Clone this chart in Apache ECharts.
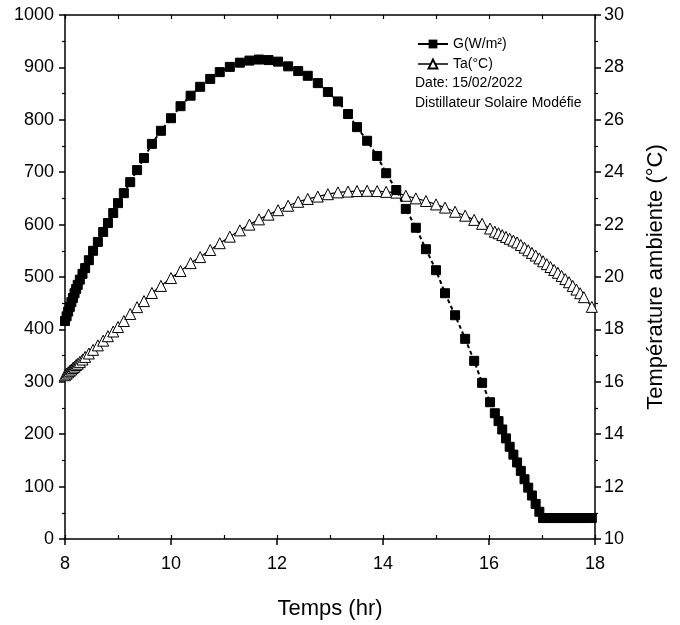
<!DOCTYPE html>
<html>
<head>
<meta charset="utf-8">
<script src="https://cdn.jsdelivr.net/npm/echarts@6/dist/echarts.min.js"></script>
<style>
html,body{margin:0;padding:0;background:#fff;}
#chart{width:680px;height:625px;}
</style>
</head>
<body>
<div id="chart"></div>
<script>
// Time (hr)
var hours = [8.00, 8.03, 8.06, 8.09, 8.12, 8.15, 8.18, 8.21, 8.24,
  8.28, 8.33, 8.38, 8.45, 8.53, 8.62, 8.72, 8.81, 8.91,
  9.00, 9.11, 9.23, 9.36, 9.49, 9.64, 9.81,
  10.00, 10.18, 10.37, 10.55, 10.74, 10.92, 11.11, 11.30, 11.48, 11.66, 11.84,
  12.02, 12.21, 12.40, 12.58, 12.77, 12.96, 13.15, 13.34, 13.51, 13.70, 13.89,
  14.06, 14.25, 14.43, 14.62, 14.81, 15.00, 15.17, 15.36, 15.55, 15.72, 15.87, 16.02,
  16.11, 16.18, 16.25, 16.32, 16.39, 16.46, 16.53, 16.60, 16.67, 16.74, 16.81, 16.88, 16.95,
  17.02, 17.09, 17.16, 17.23, 17.30, 17.37, 17.44, 17.51, 17.58, 17.65, 17.72, 17.79,
  17.94];
// Solar irradiance G (W/m2)
var gValues = [416, 425, 434, 443, 452, 460, 469, 477, 485,
  495, 506, 517, 532, 550, 567, 586, 603, 622,
  641, 660, 681, 704, 727, 754, 779,
  803, 826, 846, 863, 878, 891, 901, 909, 913, 915, 914,
  911, 902, 893, 884, 870, 853, 835, 811, 786, 760, 731,
  698, 666, 630, 594, 553, 513, 469, 427, 382, 340, 298, 261,
  240, 225, 209, 192, 176, 161, 146, 130, 114, 98, 83, 67, 52,
  40, 40, 40, 40, 40, 40, 40, 40, 40, 40, 40, 40,
  40];
// Ambient temperature Ta (°C)
var taValues = [16.25, 16.31, 16.36, 16.42, 16.47, 16.53, 16.58, 16.64, 16.69,
  16.76, 16.85, 16.95, 17.08, 17.22, 17.39, 17.57, 17.74, 17.92,
  18.09, 18.32, 18.59, 18.85, 19.08, 19.39, 19.66,
  19.96, 20.23, 20.53, 20.76, 21.03, 21.29, 21.54, 21.78, 22.00, 22.20, 22.38,
  22.55, 22.72, 22.87, 22.98, 23.07, 23.16, 23.23, 23.26, 23.28, 23.29, 23.28,
  23.25, 23.22, 23.10, 23.00, 22.90, 22.77, 22.65, 22.49, 22.34, 22.18, 22.03, 21.85,
  21.73, 21.67, 21.60, 21.53, 21.46, 21.39, 21.32, 21.22, 21.12, 21.02, 20.92, 20.82, 20.71,
  20.60, 20.49, 20.38, 20.27, 20.16, 20.04, 19.92, 19.80, 19.66, 19.52, 19.38, 19.23,
  18.86];

var seriesNames = ['G(W/m²)', 'Ta(°C)'];
var noteLines = ['Date: 15/02/2022', 'Distillateur Solaire Modéfie'];
var xAxisName = 'Temps (hr)';
var rightAxisName = 'Température ambiente (°C)';

var FONT = "'Liberation Sans', Arial, sans-serif";

var gData = hours.map(function (h, i) { return [h, gValues[i]]; });
var taData = hours.map(function (h, i) { return [h, taValues[i]]; });

var chart = echarts.init(document.getElementById('chart'), null, {renderer: 'canvas'});
var axisLine = {show: true, onZero: false, lineStyle: {color: '#000', width: 1.5}};
var plain = function (v) { return String(v); };
var option = {
  animation: false,
  backgroundColor: '#fff',
  grid: {left: 65, right: 85, top: 15, bottom: 86, containLabel: false},
  legend: {
    left: 412, top: 32, orient: 'vertical', itemGap: 6,
    itemWidth: 30, itemHeight: 11,
    textStyle: {fontFamily: FONT, fontSize: 14, color: '#000'},
    data: [
      {name: seriesNames[0], lineStyle: {type: 'solid', width: 2}},
      {name: seriesNames[1], lineStyle: {type: 'solid', width: 1.5}}
    ]
  },
  graphic: [
    {type: 'text', left: 415, top: 76, style: {text: noteLines[0], font: '14px ' + FONT, fill: '#000'}},
    {type: 'text', left: 415, top: 96, style: {text: noteLines[1], font: '14px ' + FONT, fill: '#000'}}
  ],
  xAxis: [
    {
      type: 'value', position: 'bottom', min: 8, max: 18, interval: 2,
      name: xAxisName, nameLocation: 'middle', nameGap: 59,
      nameTextStyle: {fontFamily: FONT, fontSize: 22, color: '#000'},
      axisLine: axisLine,
      axisTick: {show: true, length: 6, lineStyle: {color: '#000', width: 1.5}},
      minorTick: {show: false},
      axisLabel: {fontFamily: FONT, fontSize: 18, color: '#000', margin: 16, formatter: plain},
      splitLine: {show: false}
    },
    {
      type: 'value', position: 'bottom', min: 8, max: 18, interval: 1,
      axisLine: {show: false},
      axisTick: {show: true, inside: true, length: 4, lineStyle: {color: '#000', width: 1.2}},
      axisLabel: {show: false}, splitLine: {show: false}
    },
    {
      type: 'value', position: 'top', min: 8, max: 18, interval: 1,
      axisLine: axisLine,
      axisTick: {show: true, inside: true, length: 4, lineStyle: {color: '#000', width: 1.2}},
      axisLabel: {show: false}, splitLine: {show: false}
    }
  ],
  yAxis: [
    {
      type: 'value', position: 'left', min: 0, max: 1000, interval: 100,
      axisLine: axisLine,
      axisTick: {show: true, length: 6, lineStyle: {color: '#000', width: 1.5}},
      minorTick: {show: true, splitNumber: 2, length: 3, lineStyle: {color: '#000', width: 1.2}},
      axisLabel: {fontFamily: FONT, fontSize: 18, color: '#000', margin: 11, formatter: plain},
      splitLine: {show: false}
    },
    {
      type: 'value', position: 'right', min: 10, max: 30, interval: 2,
      name: rightAxisName, nameLocation: 'middle', nameGap: 50, nameRotate: 90,
      nameTextStyle: {fontFamily: FONT, fontSize: 22, color: '#000'},
      axisLine: axisLine,
      axisTick: {show: true, length: 6, lineStyle: {color: '#000', width: 1.5}},
      minorTick: {show: true, splitNumber: 2, length: 3, lineStyle: {color: '#000', width: 1.2}},
      axisLabel: {fontFamily: FONT, fontSize: 18, color: '#000', margin: 9, formatter: plain},
      splitLine: {show: false}
    }
  ],
  series: [
    {
      name: seriesNames[1], type: 'line', xAxisIndex: 0, yAxisIndex: 1,
      data: taData, symbol: 'triangle', symbolSize: 11, showAllSymbol: true,
      lineStyle: {color: '#000', width: 1.2},
      itemStyle: {color: '#fff', borderColor: '#000', borderWidth: 1},
      z: 3
    },
    {
      name: seriesNames[0], type: 'line', xAxisIndex: 0, yAxisIndex: 0,
      data: gData, symbol: 'rect', symbolSize: 9, showAllSymbol: true,
      lineStyle: {color: '#000', width: 2, type: [4, 3]},
      itemStyle: {color: '#000', borderColor: '#000'},
      z: 4
    }
  ]
};
chart.setOption(option);
</script>
</body>
</html>
